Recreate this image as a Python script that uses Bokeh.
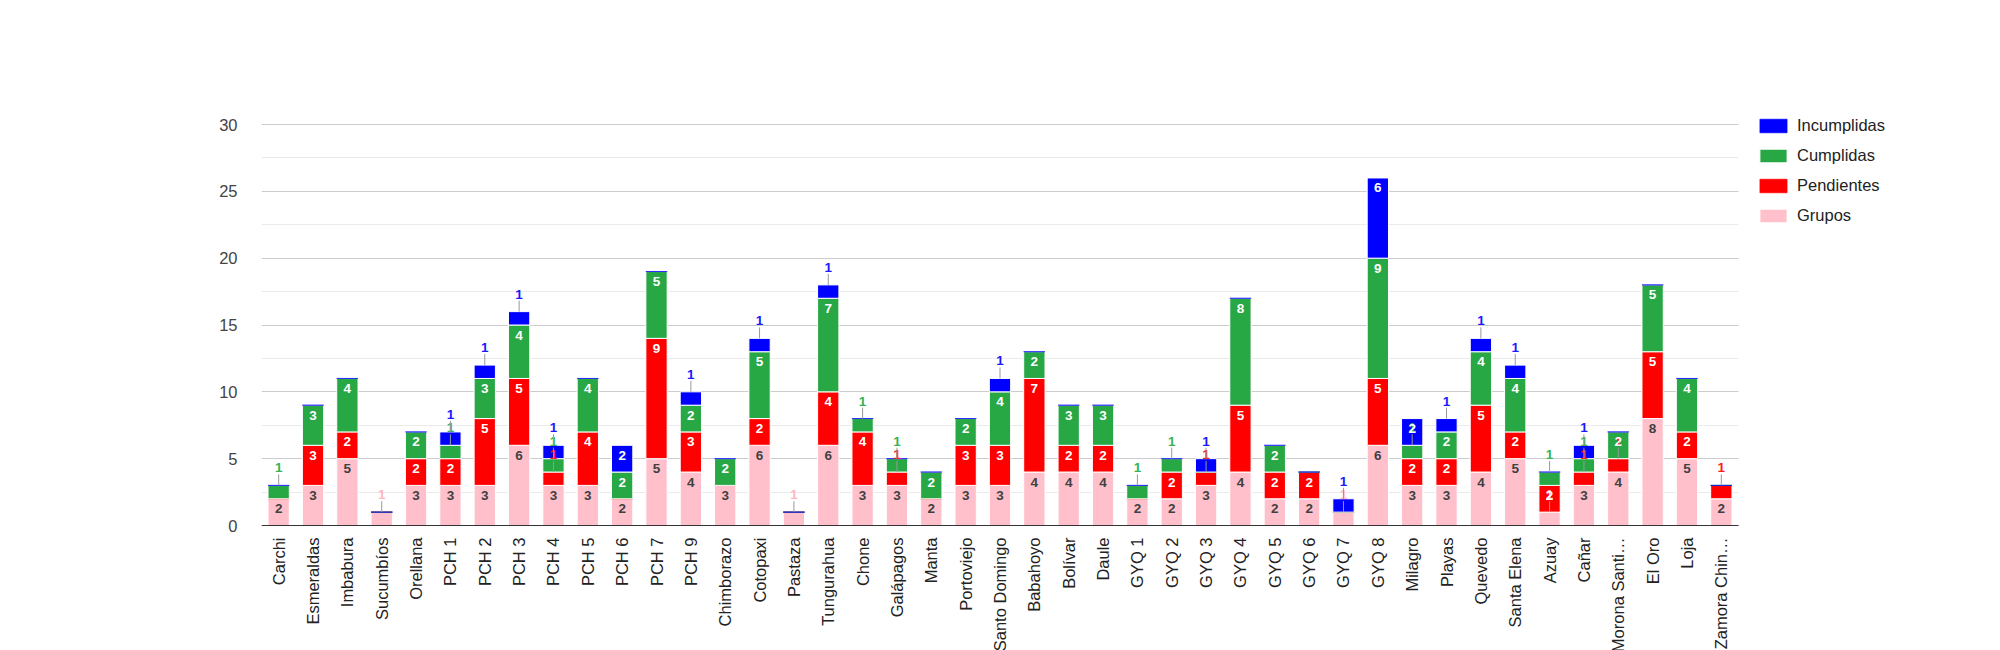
import numpy as np
from bokeh.plotting import figure
from bokeh.models import (ColumnDataSource, Range1d, FixedTicker, Legend,
                          LegendItem)
from bokeh.core.properties import value
from bokeh.embed import file_html
from bokeh.resources import INLINE

categories = ["Carchi", "Esmeraldas", "Imbabura", "Sucumbíos", "Orellana",
              "PCH 1", "PCH 2", "PCH 3", "PCH 4", "PCH 5", "PCH 6", "PCH 7",
              "PCH 9", "Chimborazo", "Cotopaxi", "Pastaza", "Tungurahua",
              "Chone", "Galápagos", "Manta", "Portoviejo", "Santo Domingo",
              "Babahoyo", "Bolívar", "Daule", "GYQ 1", "GYQ 2", "GYQ 3",
              "GYQ 4", "GYQ 5", "GYQ 6", "GYQ 7", "GYQ 8", "Milagro", "Playas",
              "Quevedo", "Santa Elena", "Azuay", "Cañar", "Morona Santi…",
              "El Oro", "Loja", "Zamora Chin…"]
grupos = [2, 3, 5, 1, 3, 3, 3, 6, 3, 3, 2, 5, 4, 3, 6, 1, 6, 3, 3, 2, 3, 3,
          4, 4, 4, 2, 2, 3, 4, 2, 2, 1, 6, 3, 3, 4, 5, 1, 3, 4, 8, 5, 2]
pendientes = [0, 3, 2, 0, 2, 2, 5, 5, 1, 4, 0, 9, 3, 0, 2, 0, 4, 4, 1, 0, 3, 3,
              7, 2, 2, 0, 2, 1, 5, 2, 2, 0, 5, 2, 2, 5, 2, 2, 1, 1, 5, 2, 1]
cumplidas = [1, 3, 4, 0, 2, 1, 3, 4, 1, 4, 2, 5, 2, 2, 5, 0, 7, 1, 1, 2, 2, 4,
             2, 3, 3, 1, 1, 0, 8, 2, 0, 0, 9, 1, 2, 4, 4, 1, 1, 2, 5, 4, 0]
incumplidas = [0, 0, 0, 0, 0, 1, 1, 1, 1, 0, 2, 0, 1, 0, 1, 0, 1, 0, 0, 0, 0, 1,
               0, 0, 0, 0, 0, 1, 0, 0, 0, 1, 6, 2, 1, 1, 1, 0, 1, 0, 0, 0, 0]

series_names = ["Grupos", "Pendientes", "Cumplidas", "Incumplidas"]
series_colors = ["#ffc0cb", "#ff0000", "#28a745", "#0000ff"]
inside_text_colors = ["#404040", "#ffffff", "#ffffff", "#ffffff"]
outside_text_colors = ["#ffb6c1", "#ff1a1a", "#34b453", "#1a1aff"]
y_ticks = [0, 5, 10, 15, 20, 25, 30]

FONT = "Liberation Sans"

W, H = 1984, 650
left, right, top = 261, 1738, 124      # plot area, in page pixels
frame_top = 100
plot_h = 401                            # pixels from 0 up to the top tick
n = len(categories)
y_max = y_ticks[-1]
px_per_unit = plot_h / y_max
px_per_cat = (right - left) / n

# the frame reaches the right and bottom edges, so the legend and the rotated
# names can be drawn inside it
y_lo = -(H - top - plot_h) / px_per_unit
y_hi = y_max + (top - frame_top) / px_per_unit
x_hi = (W - left) / px_per_cat

p = figure(x_range=Range1d(0, x_hi), y_range=Range1d(y_lo, y_hi),
           width=W, height=H, output_backend="svg", toolbar_location=None,
           min_border_left=left, min_border_right=0,
           min_border_top=frame_top, min_border_bottom=0)
p.outline_line_color = None
p.xaxis.visible = False

minor = [(a + b) / 2 for a, b in zip(y_ticks[:-1], y_ticks[1:])]
ticker = FixedTicker(ticks=y_ticks, minor_ticks=minor)
p.xgrid.grid_line_color = None
p.yaxis.ticker = ticker
p.yaxis.axis_line_color = None
p.yaxis.major_tick_line_color = None
p.yaxis.minor_tick_line_color = None
p.yaxis.major_label_standoff = 18
p.yaxis.major_label_text_font = FONT
p.yaxis.major_label_text_font_size = "16.5px"
p.yaxis.major_label_text_color = "#444444"

grid = p.ygrid[0]
if "cross_bounds" in grid.properties():
    grid.ticker = ticker
    grid.cross_bounds = (0, n)
    grid.grid_line_color = "#cccccc"
    grid.minor_grid_line_color = "#ebebeb"
else:
    grid.grid_line_color = None
    p.segment(x0=0, x1=n, y0=minor, y1=minor, line_color="#ebebeb", line_width=1)
    p.segment(x0=0, x1=n, y0=y_ticks[1:], y1=y_ticks[1:], line_color="#cccccc",
              line_width=1)

xs = np.arange(n) + 0.5
vals = np.array([grupos, pendientes, cumplidas, incumplidas])
tops = np.cumsum(vals, axis=0)
bottoms = tops - vals

renderers = []
for i, name in enumerate(series_names):
    col = series_colors[i]
    lines = ["#ffffff" if v > 0 else col + "99" for v in vals[i]]
    src = ColumnDataSource(dict(x=xs, bottom=bottoms[i], top=tops[i],
                                line=lines))
    r = p.vbar(x="x", bottom="bottom", top="top", width=0.62, source=src,
               fill_color=col, line_color="line", line_width=1)
    renderers.append(r)

# baseline
p.segment(x0=0, x1=n, y0=0, y1=0, line_color="#333333", line_width=1)

# value labels: inside the segment when it is tall enough, else above with a stem
for i, name in enumerate(series_names):
    v = vals[i]
    inside = v >= 2
    outside = v == 1
    src_in = ColumnDataSource(dict(x=xs[inside], y=tops[i][inside],
                                   t=[str(k) for k in v[inside]]))
    p.text(x="x", y="y", text="t", source=src_in, y_offset=10,
           text_align="center", text_baseline="middle",
           text_font=value(FONT), text_font_style="bold",
           text_font_size="13.5px", text_color=inside_text_colors[i])

    src_out = ColumnDataSource(dict(
        x=xs[outside], y=tops[i][outside],
        y1=tops[i][outside] + 11 / px_per_unit,
        t=[str(k) for k in v[outside]]))
    p.segment(x0="x", y0="y", x1="x", y1="y1", source=src_out,
              line_color="#999999", line_width=1)
    p.text(x="x", y="y", text="t", source=src_out, y_offset=-17.5,
           text_align="center", text_baseline="middle",
           text_font=value(FONT), text_font_style="bold",
           text_font_size="13.5px", text_color=outside_text_colors[i])

# category names, rotated, under the baseline
names_src = ColumnDataSource(dict(x=xs, y=[0] * n, name=categories))
p.text(x="x", y="y", text="name", source=names_src, y_offset=12,
       angle=np.pi / 2, text_align="right", text_baseline="middle",
       text_font=value(FONT), text_font_size="16.5px", text_color="#222222")

items = [LegendItem(label=series_names[i], renderers=[renderers[i]])
         for i in [3, 2, 1, 0]]
legend_h = 4 * 17 + 3 * 11
legend_top = 123.5
legend = Legend(items=items,
                location=(1756 - left, H - legend_top - legend_h),
                orientation="vertical",
                glyph_width=34, glyph_height=17, label_height=17, spacing=11,
                padding=0, margin=0, label_standoff=7,
                border_line_color=None, background_fill_alpha=0,
                label_text_font=FONT, label_text_font_size="16.5px",
                label_text_color="#222222")
p.add_layout(legend)

open("out.html", "w").write(file_html(p, INLINE))
